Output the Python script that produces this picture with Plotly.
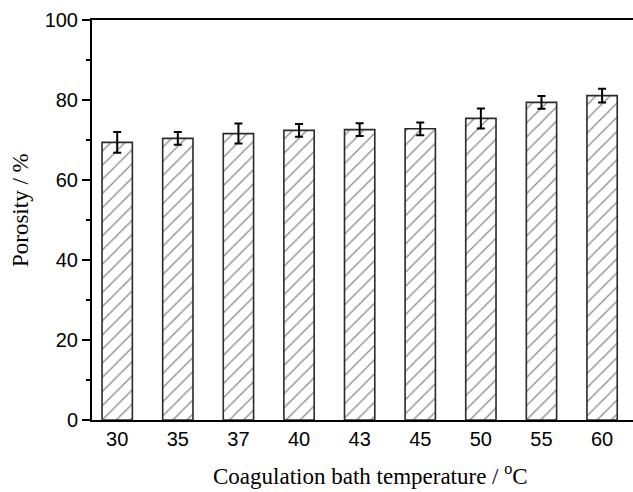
import plotly.graph_objects as go

# Coagulation bath temperature (°C) and measured porosity (%)
temperatures = ["30", "35", "37", "40", "43", "45", "50", "55", "60"]
porosity = [69.4, 70.4, 71.6, 72.4, 72.6, 72.8, 75.4, 79.4, 81.1]
porosity_err = [2.6, 1.6, 2.5, 1.6, 1.6, 1.6, 2.5, 1.6, 1.7]

positions = list(range(len(temperatures)))

serif = "Liberation Serif, Times New Roman, serif"

fig = go.Figure(
    go.Bar(
        x=positions,
        y=porosity,
        width=0.5,
        marker=dict(
            color="white",
            line=dict(color="#2a2a2a", width=1.6),
            pattern=dict(shape="/", size=10, solidity=0.14, fgcolor="#222222", bgcolor="white"),
        ),
        error_y=dict(type="data", array=porosity_err, visible=True,
                     color="black", thickness=2, width=4),
    )
)

fig.update_layout(
    width=633,
    height=492,
    margin=dict(l=92, r=0, t=20, b=72),
    plot_bgcolor="white",
    paper_bgcolor="white",
    showlegend=False,
    font=dict(family="Liberation Sans, Arial, sans-serif", color="black"),
    annotations=[
        dict(text="Coagulation bath temperature / <sup>o</sup>C",
             xref="paper", yref="paper", x=0.514, y=-0.137,
             xanchor="center", yanchor="middle", showarrow=False,
             font=dict(family=serif, size=23, color="black")),
        dict(text="Porosity / %",
             xref="paper", yref="paper", x=-0.133, y=0.525,
             xanchor="center", yanchor="middle", textangle=-90, showarrow=False,
             font=dict(family=serif, size=23, color="black")),
    ],
)

fig.update_xaxes(
    range=[-0.416, 8.51],
    tickmode="array",
    tickvals=positions,
    ticktext=temperatures,
    ticks="",
    showgrid=False,
    zeroline=False,
    showline=True,
    linecolor="black",
    linewidth=2,
    mirror=True,
    tickfont=dict(size=20),
)

fig.update_yaxes(
    range=[0, 100],
    tick0=0,
    dtick=20,
    ticks="outside",
    ticklen=8,
    tickwidth=2,
    tickcolor="black",
    minor=dict(dtick=10, ticks="outside", ticklen=4, tickwidth=2, tickcolor="black"),
    showgrid=False,
    zeroline=False,
    showline=True,
    linecolor="black",
    linewidth=2,
    tickfont=dict(size=20),
)

fig.write_html("out.html")
